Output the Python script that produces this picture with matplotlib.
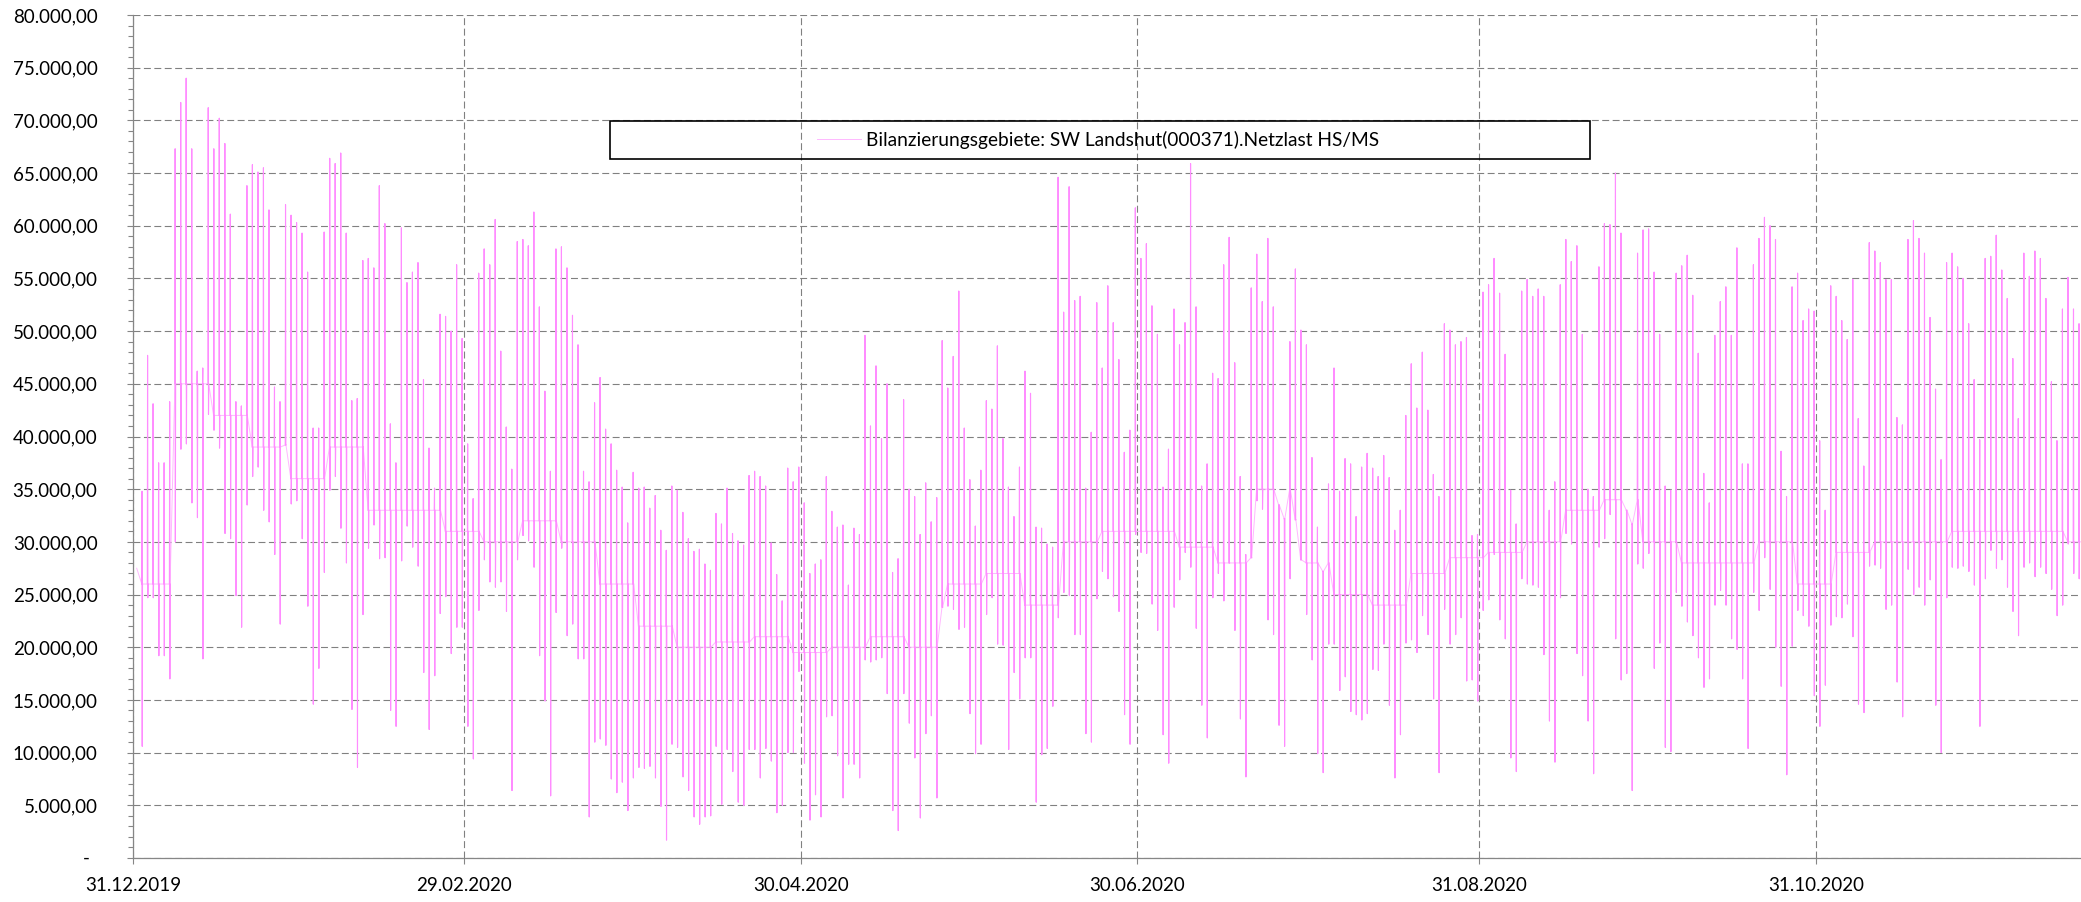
import numpy as np
import matplotlib
matplotlib.use("Agg")
import matplotlib.pyplot as plt
import matplotlib.dates as mdates
from matplotlib.ticker import MultipleLocator, FuncFormatter
from matplotlib.patches import Rectangle
import matplotlib.transforms as mtransforms

plt.rcParams['font.family'] = ['Lato', 'DejaVu Sans']
plt.rcParams['lines.scale_dashes'] = False

series_name = "Bilanzierungsgebiete: SW Landshut(000371).Netzlast HS/MS"
start_date = np.datetime64('2019-12-31T00:00')
end_day = 353
tick_dates = ['2019-12-31', '2020-02-29', '2020-04-30', '2020-06-30', '2020-08-31', '2020-10-31']

start_value = 27500

# daily peak, day 1 = 01.01.2020
day_high = [
    34800, 47700, 43100, 37500, 37500, 43300, 67300, 71700, 74000, 67300,
    46200, 46500, 71200, 67300, 70200, 67800, 61100, 43300, 42900, 63800,
    65800, 65100, 65500, 61500, 44700, 43300, 62000, 61000, 60300, 59300,
    55600, 40800, 40800, 59400, 66400, 65900, 66900, 59300, 43400, 43600,
    56700, 56900, 56000, 63800, 60200, 41200, 37500, 59800, 54600, 55600,
    56500, 45400, 38900, 35100, 51600, 51400, 50000, 56300, 49300, 39300,
    34100, 55500, 57800, 56300, 60600, 48100, 40900, 36900, 58500, 58700,
    58100, 61300, 52300, 44300, 36700, 57800, 58000, 56000, 51500, 48700,
    36700, 35700, 43200, 45600, 40700, 39300, 36800, 35200, 31800, 36600,
    35100, 35200, 33200, 34400, 31100, 29200, 35300, 34900, 32800, 30300,
    29100, 29300, 27900, 27300, 32700, 31700, 35100, 30800, 30100, 29700,
    36300, 36700, 36200, 35300, 29900, 26900, 24400, 37000, 35700, 37100,
    33700, 27000, 27900, 28300, 36200, 32900, 31400, 31600, 25900, 31300,
    30700, 49600, 41000, 46700, 39800, 45000, 27100, 28400, 43500, 35000,
    34300, 30700, 35600, 31900, 34200, 49100, 44600, 47600, 53800, 40800,
    35900, 31500, 36800, 43400, 42600, 48600, 39800, 35200, 32400, 37100,
    46200, 44100, 31400, 31300, 29800, 29500, 64600, 51800, 63700, 52900,
    53300, 35100, 40400, 52700, 46500, 54300, 50800, 47300, 38500, 40600,
    61700, 56900, 58300, 52400, 49700, 35200, 38800, 52100, 48700, 50800,
    65900, 52300, 35300, 37400, 46000, 45500, 56300, 58900, 47000, 36200,
    28800, 54100, 57300, 52800, 58800, 52300, 33500, 32200, 49000, 55900,
    50100, 48700, 38000, 31400, 27200, 35500, 46500, 34800, 37900, 37400,
    32400, 37100, 38400, 37000, 36200, 38200, 36100, 31100, 33000, 42000,
    46900, 42700, 48000, 42500, 36400, 34300, 50700, 50100, 48700, 49000,
    49400, 30600, 30700, 53700, 54400, 56900, 53600, 47800, 34900, 31700,
    53800, 54900, 53300, 54000, 53300, 33000, 35700, 54400, 58700, 56600,
    58100, 49700, 35000, 34300, 56100, 60200, 60100, 65000, 59300, 33000,
    31700, 57400, 59600, 59700, 55600, 49700, 35300, 34900, 55500, 56200,
    57200, 53400, 47900, 36500, 33700, 49600, 52800, 54200, 49600, 57900,
    37400, 37400, 56300, 58800, 60800, 60000, 58700, 38600, 34300, 54200,
    55500, 51000, 52100, 51900, 39600, 33000, 54300, 53300, 51000, 49200,
    54900, 41700, 37200, 58400, 57600, 56500, 54900, 54900, 41800, 41100,
    58700, 60500, 58800, 57400, 51300, 44500, 37800, 56500, 57400, 56100,
    55000, 50700, 45400, 39700, 56900, 57100, 59100, 55800, 53100, 47400,
    41700, 57400, 55200, 57600, 56900, 53100, 45200, 39600, 52100, 55100,
    52100, 50700,
]

# daily minimum
day_low = [
    10600, 24700, 24700, 19200, 19200, 17000, 30000, 38800, 39300, 33700,
    32300, 18900, 42100, 40600, 38900, 30800, 30300, 24900, 21900, 33500,
    36200, 37100, 33000, 31900, 28800, 22200, 39200, 33600, 33900, 30300,
    23900, 14600, 18000, 27100, 34900, 36200, 31300, 28000, 14100, 8600,
    23100, 29400, 31600, 28400, 28500, 14000, 12500, 28200, 31500, 29500,
    27700, 17600, 12200, 17300, 23200, 24800, 19400, 21900, 21900, 12500,
    9400, 23500, 28300, 26200, 25700, 26200, 23400, 6400, 28300, 30600,
    30100, 27600, 19200, 14900, 5900, 23300, 29400, 21100, 22200, 18900,
    18900, 3900, 11000, 11300, 10700, 7500, 6200, 7200, 4500, 7600,
    8600, 8500, 8700, 7600, 4900, 1700, 10800, 10500, 7700, 6400,
    3900, 3200, 3900, 4000, 10600, 5100, 10300, 8200, 5300, 5000,
    10300, 10300, 7600, 10400, 9200, 4300, 5000, 10000, 10000, 17700,
    9000, 3600, 6000, 3900, 13400, 13500, 9700, 5700, 8900, 8900,
    7600, 18800, 18600, 18800, 19000, 15600, 4500, 2600, 15600, 12800,
    9500, 3800, 11800, 13500, 5700, 23800, 23900, 23600, 21700, 21900,
    13700, 9900, 10800, 23100, 24700, 20300, 20200, 10300, 17600, 15100,
    19000, 19000, 5300, 9800, 10400, 14400, 22800, 25200, 24900, 21200,
    21200, 11800, 11000, 24600, 27200, 26500, 24800, 23400, 13600, 10800,
    30700, 29000, 28900, 24100, 21600, 11700, 9000, 23800, 26400, 29000,
    27600, 21800, 14500, 11400, 24700, 27000, 24400, 28000, 21600, 13200,
    7700, 28500, 33900, 33100, 22600, 21200, 12600, 10600, 26500, 32100,
    28300, 23100, 18800, 9900, 8100, 20300, 20300, 15900, 17200, 13900,
    13600, 13100, 13700, 17900, 17800, 20300, 14500, 7600, 11700, 20400,
    20700, 19500, 23000, 21200, 15100, 8100, 23600, 20300, 21200, 22800,
    16800, 16900, 14900, 23500, 24500, 28800, 22600, 20800, 9500, 8200,
    26500, 26000, 25900, 25700, 19300, 13000, 9100, 24700, 30800, 29800,
    19400, 17300, 13000, 8000, 29500, 30300, 32600, 20800, 16900, 17500,
    6400, 27900, 27500, 28900, 18000, 20400, 10500, 10100, 25200, 23900,
    22400, 21100, 19000, 16200, 17000, 24000, 25400, 24000, 20800, 19800,
    17000, 10400, 25200, 23500, 28500, 25500, 20000, 16300, 7900, 20100,
    23500, 23000, 22000, 15400, 12500, 16400, 22100, 22900, 22800, 24100,
    21000, 14600, 13800, 27700, 27800, 27500, 23600, 24000, 16700, 13400,
    27400, 25000, 25700, 24000, 26400, 14500, 10000, 24700, 27600, 27500,
    27700, 27200, 25900, 12500, 26500, 29200, 27500, 28300, 25700, 23400,
    21100, 27600, 28000, 26700, 27600, 27000, 25500, 23000, 24000, 29800,
    27000, 26500,
]

# base level between the daily spikes, one value per week
week_mid = [
    26000, 45000, 42000, 39000, 36000, 39000, 33000, 33000, 31000, 30000,
    32000, 30000, 26000, 22000, 20000, 20500, 21000, 19500, 20000, 21000,
    20000, 26000, 27000, 24000, 30000, 31000, 31000, 29500, 28000, 35000,
    28000, 25000, 24000, 27000, 28500, 29000, 30000, 33000, 34000, 30000,
    28000, 28000, 30000, 26000, 29000, 30000, 30000, 31000, 31000, 31000,
    30000,
]

high = np.array(day_high, dtype=float)
low = np.array(day_low, dtype=float)
days = np.arange(1, len(high) + 1)
mid = np.clip(np.array(week_mid, dtype=float)[days // 7], low, high)

t_day = np.column_stack([days + 0.60, days + 0.64, days + 0.68, days + 0.72])
v_day = np.column_stack([mid, high, low, mid])

# full trace (thin, pale) and the daily spikes on top of it
t = np.concatenate([[0.67], t_day.ravel(), [end_day + 0.6]])
v = np.concatenate([[start_value], v_day.ravel(), [week_mid[-1]]])
x = start_date + (t * 24 * 60).astype('timedelta64[m]')

t_sp = np.column_stack([t_day, np.full(len(days), np.nan)]).ravel()
v_sp = np.column_stack([v_day, np.full(len(days), np.nan)]).ravel()
x_sp = start_date + (np.nan_to_num(t_sp) * 24 * 60).astype('timedelta64[m]')
v_sp = np.where(np.isnan(t_sp), np.nan, v_sp)


def de_format(val, pos):
    if abs(val) < 1e-6:
        return ''
    s = f"{val:,.2f}"
    return s.replace(',', 'X').replace('.', ',').replace('X', '.')


fig = plt.figure(figsize=(20.81, 9.02), dpi=100)
ax = fig.add_axes([133 / 2081, 44 / 902, 1948 / 2081, 843 / 902])

ax.plot(x, v, color='#ffb8ff', lw=0.7, zorder=3, label=series_name)
ax.plot(x_sp, v_sp, color='#ff8cff', lw=0.8, zorder=4)

ax.set_ylim(0, 80000)
ax.set_xlim(start_date, start_date + np.timedelta64(end_day, 'D'))
ax.yaxis.set_major_locator(MultipleLocator(5000))
ax.yaxis.set_minor_locator(MultipleLocator(1000))
ax.yaxis.set_major_formatter(FuncFormatter(de_format))
ax.set_xticks([np.datetime64(d) for d in tick_dates])
ax.xaxis.set_major_formatter(mdates.DateFormatter('%d.%m.%Y'))

ax.grid(True, which='major', color='#808080', linestyle=(0, (5, 2.5)), linewidth=0.8, zorder=1)
ax.set_axisbelow(True)

for side in ['top', 'right']:
    ax.spines[side].set_visible(False)
for side in ['left', 'bottom']:
    ax.spines[side].set_color('#868686')
    ax.spines[side].set_linewidth(0.9)

ax.tick_params(axis='y', which='major', direction='out', length=4.5, width=0.8,
               color='#868686', labelsize=13.5, pad=21)
ax.tick_params(axis='y', which='minor', direction='out', length=3.5, width=0.8,
               color='#868686')
ax.tick_params(axis='x', which='major', direction='out', length=4.5, width=0.8,
               color='#868686', labelsize=13.5, pad=9)

# zero label is a dash set in from the right edge of the other labels
zero_tr = mtransforms.blended_transform_factory(ax.transAxes, ax.transData)
ax.text(-47 / 1948, 0, '-', transform=zero_tr, ha='center', va='center',
        fontsize=13.5, clip_on=False)

# legend frame spanning the wide box of the original
ax.add_patch(Rectangle((477 / 1948, 699 / 843), 980 / 1948, 38 / 843,
                       transform=ax.transAxes, fill=False, edgecolor='black',
                       linewidth=1.2, zorder=5))
ax.legend(loc='center', bbox_to_anchor=(965 / 1948, 718 / 843), frameon=False,
          handlelength=2.3, handletextpad=0.3, fontsize=13.8)

fig.savefig('out.png', dpi=100)
